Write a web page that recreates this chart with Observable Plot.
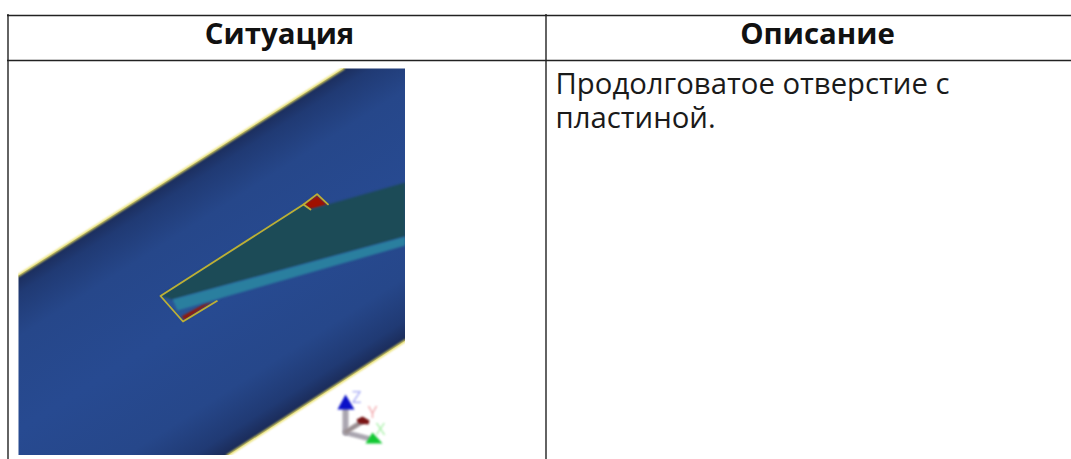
<!DOCTYPE html>
<html>
<head>
<meta charset="utf-8">
<style>html,body{margin:0;padding:0;background:#fff;overflow:hidden}</style>
<script src="https://cdn.jsdelivr.net/npm/d3@7"></script>
<script src="https://cdn.jsdelivr.net/npm/@observablehq/plot@0.6"></script>
</head>
<body>
<div id="chart"></div>
<script>
// table text
const headers = [{label: "Ситуация", x: 279, y: 34}, {label: "Описание", x: 817, y: 34}];
const description = [{label: "Продолговатое отверстие с\nпластиной.", x: 555, y: 99.5}];
// table rules
const ruleRows = [{y: 15, x1: 7, x2: 1071}, {y: 60, x1: 7, x2: 1071}];
const ruleCols = [{x: 7.5, y1: 14, y2: 459}, {x: 545.5, y1: 14, y2: 459}];

// picture shapes
const pt = ([x, y]) => ({x, y});
const tube = [[18,275],[343,68],[405,68],[405,340],[227,455],[18,455]].map(pt);
const tubeEdgeTop = [[18,275],[343,68]].map(pt);
const tubeEdgeBottom = [[227,455],[405,340]].map(pt);
const tubeAxisSpan = [[180,171],[321,392]];
const slotFill = [[160,295.5],[316.6,193.6],[327.5,204],[216.4,300.6],[182.5,321]].map(pt);
const redTop = [[303,204],[316.6,195],[327,204.5],[309.8,209]].map(pt);
const redBottom = [[181,316],[203,304],[212,301],[184,319.5]].map(pt);
const plateTop = [[160,295.5],[303,204],[310,209],[405,182],[405,236],[172,299]].map(pt);
const plateSide = [[172,299],[405,236],[405,245],[177,310]].map(pt);
const slotOutlineA = [[310,209],[303,204],[316.6,193.6],[327.5,203.8]].map(pt);
const slotOutlineB = [[303,204],[160,295.5],[182.5,321],[216.4,300.6]].map(pt);
// white margins around the picture
const pictureMargins = [
  {x1: 405, x2: 544.5, y1: 61, y2: 459},
  {x1: 8.5, x2: 405, y1: 61, y2: 68},
  {x1: 8.5, x2: 18, y1: 61, y2: 459},
  {x1: 8.5, x2: 405, y1: 455, y2: 459}
];
// axis triad
const shaftZ = [[345,408],[345,432]].map(pt);
const shaftX = [[345,432],[368,438]].map(pt);
const shaftY = [[346,431],[362,421]].map(pt);
const coneZ = [[345,394],[337,409],[354,409]].map(pt);
const coneX = [[365,443],[382,443],[372,432]].map(pt);
const coneY = [[356,419],[362,416],[369,420],[368,424],[358,423]].map(pt);
const triadLabels = [
  {label: "Z", x: 356, y: 397, color: "#a4a8f4"},
  {label: "Y", x: 372, y: 412, color: "#f2a8ac"},
  {label: "X", x: 380, y: 429, color: "#a8f0a8"}
];

const xy = {x: "x", y: "y"};
const soft = {imageFilter: "blur(0.8px)"};
const softer = {imageFilter: "blur(0.6px)"};
const poly = (data, fill) => Plot.line(data, {...xy, fill, stroke: "none", ...soft});
const edge = (data, stroke, strokeWidth, filter = soft) => Plot.line(data, {...xy, stroke, strokeWidth, ...filter});

const gradient = (i, {x, y}) => {
  const [[x1, y1], [x2, y2]] = tubeAxisSpan;
  const defs = d3.create("svg:defs");
  const g = defs.append("linearGradient").attr("id", "tubeShade")
    .attr("gradientUnits", "userSpaceOnUse")
    .attr("x1", x(x1)).attr("y1", y(y1)).attr("x2", x(x2)).attr("y2", y(y2));
  [[0, "#1b2c5a"], [0.06, "#203a74"], [0.2, "#26478a"], [0.5, "#274a91"], [0.8, "#26478a"], [0.94, "#203a74"], [1, "#1b2c5a"]]
    .forEach(([o, c]) => g.append("stop").attr("offset", o).attr("stop-color", c));
  return defs.node();
};

const chart = Plot.plot({
  width: 1071,
  height: 459,
  margin: 0,
  x: {domain: [0, 1071], range: [0, 1071], axis: null},
  y: {domain: [0, 459], range: [0, 459], axis: null},
  style: {background: "#fff", fontFamily: "'Open Sans'"},
  marks: [
    gradient,
    Plot.line(tube, {...xy, fill: "url(#tubeShade)", stroke: "none"}),
    edge(tubeEdgeTop, "#e6dc5a", 2.4),
    edge(tubeEdgeBottom, "#e6dc5a", 2.4),
    poly(slotFill, "#2a5496"),
    poly(redTop, "#a01000"),
    poly(redBottom, "#941606"),
    poly(plateTop, "#1c4b57"),
    poly(plateSide, "#2a7f9f"),
    edge(slotOutlineA, "#bdb035", 1.8, softer),
    edge(slotOutlineB, "#bdb035", 1.8, softer),
    Plot.rect(pictureMargins, {x1: "x1", x2: "x2", y1: "y1", y2: "y2", fill: "#fff"}),
    edge(shaftZ, "#aaa6b0", 6),
    edge(shaftX, "#aaa6b0", 5),
    edge(shaftY, "#9a8f92", 5),
    poly(coneZ, "#0a10c8"),
    poly(coneX, "#12c832"),
    poly(coneY, "#7a1414"),
    Plot.text(triadLabels, {...xy, text: "label", fill: "color", fontSize: 17, fontWeight: 400, ...soft}),
    Plot.ruleY(ruleRows, {y: "y", x1: "x1", x2: "x2", stroke: "#222", strokeWidth: 1.4}),
    Plot.ruleX(ruleCols, {x: "x", y1: "y1", y2: "y2", stroke: "#222", strokeWidth: 1.4}),
    Plot.text(headers, {...xy, text: "label", fontSize: 29.4, fontWeight: 700, fill: "#111", textAnchor: "middle", lineAnchor: "middle"}),
    Plot.text(description, {...xy, text: "label", fontSize: 29.3, lineHeight: 1.18, fontWeight: 400, fill: "#1a1a1a", textAnchor: "start", lineAnchor: "middle"})
  ]
});
document.getElementById("chart").appendChild(chart);
</script>
</body>
</html>
